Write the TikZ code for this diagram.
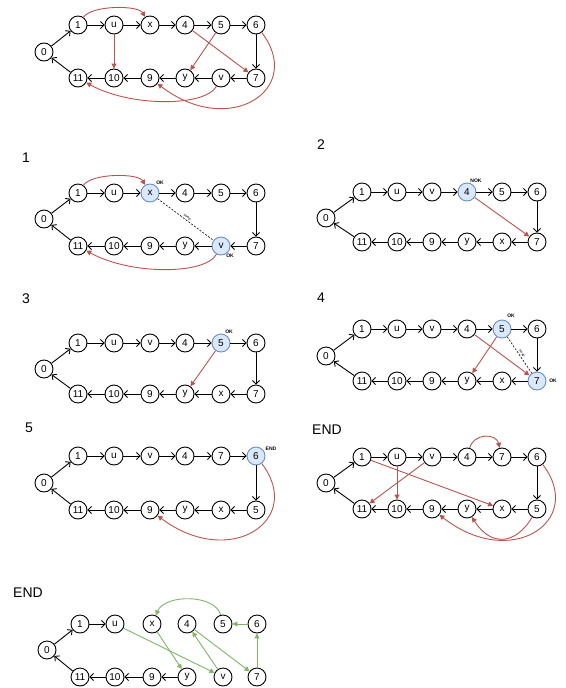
\documentclass[tikz,border=0pt]{standalone}
\usepackage{fontspec}
\setmainfont{Liberation Sans}
\usetikzlibrary{arrows.meta}
\definecolor{redc}{HTML}{B85450}
\definecolor{greenc}{HTML}{82B366}
\definecolor{bluef}{HTML}{DAE8FC}
\definecolor{blued}{HTML}{6C8EBF}
\begin{document}
\begin{tikzpicture}[x=1pt,y=-1pt,
  nd/.style={circle,draw,line width=0.9pt,minimum size=18pt,inner sep=0pt,font=\fontsize{10}{10}\selectfont},
  hl/.style={nd,fill=bluef,draw=blued},
  blk/.style={line width=0.9pt,-{Straight Barb[length=3.5pt,width=7pt]}},
  redarr/.style={draw=redc,line width=0.9pt,-{Triangle[length=5pt,width=5pt]}},
  grnarr/.style={draw=greenc,line width=0.9pt,-{Triangle[length=5pt,width=5pt]}},
  dsh/.style={dashed,line width=0.6pt,dash pattern=on 2pt off 1.5pt},
  tiny/.style={font=\fontsize{5}{5}\bfseries\selectfont,inner sep=0pt},
  swapl/.style={font=\fontsize{3.5}{4}\selectfont,inner sep=1pt,sloped,above},
  lbl/.style={font=\fontsize{14}{14}\selectfont,inner sep=0pt}]
\useasboundingbox (0,0) rectangle (565,688);

% ---------- Panel A (top) ----------
\node[nd] (A0) at (44,52) {0};
\foreach \n/\x in {1/78,u/114,x/150,4/185,5/221,6/256} \node[nd] (A\n) at (\x,25) {\n};
\foreach \n/\x in {11/78,10/114,9/150,y/185,v/221,7/256} \node[nd] (A\n) at (\x,78) {\n};
\foreach \a/\b in {0/1,1/u,u/x,x/4,4/5,5/6,6/7,7/v,v/y,y/9,9/10,10/11,11/0} \draw[blk] (A\a) -- (A\b);
\draw[redarr] (A1) .. controls (92,5) and (138,5) .. (Ax);
\draw[redarr] (Au) -- (A10);
\draw[redarr] (A4) -- (A7);
\draw[redarr] (A5) -- (Ay);
\draw[redarr] (A6) .. controls (305,89) and (230,139) .. (A9);
\draw[redarr] (Av) .. controls (205,107) and (130,107) .. (A11);

% ---------- Panel 1 ----------
\node[lbl] (L1) at (26,158) {1};
\node[nd] (B0) at (44,219) {0};
\foreach \n/\x/\s in {1/78/nd,u/114/nd,x/150/hl,4/185/nd,5/221/nd,6/256/nd} \node[\s] (B\n) at (\x,193) {\n};
\foreach \n/\x/\s in {11/78/nd,10/114/nd,9/150/nd,y/185/nd,v/221/hl,7/256/nd} \node[\s] (B\n) at (\x,246) {\n};
\foreach \a/\b in {0/1,1/u,u/x,x/4,4/5,5/6,6/7,7/v,v/y,y/9,9/10,10/11,11/0} \draw[blk] (B\a) -- (B\b);
\draw[redarr] (B1) .. controls (92,173) and (138,173) .. (Bx);
\draw[redarr] (Bv) .. controls (205,275) and (130,275) .. (B11);
\draw[dsh] (Bx) -- node[swapl] {swap} (Bv);
\node[tiny] (Bokx) at (160,183) {OK};
\node[tiny] (Bokv) at (230,256) {OK};

% ---------- Panel 2 ----------
\node[lbl] (L2) at (321,145) {2};
\node[nd] (C0) at (326,218) {0};
\foreach \n/\x/\s in {1/362/nd,u/397/nd,v/432/nd,4/467/hl,5/502/nd,6/537/nd} \node[\s] (C\n) at (\x,192) {\n};
\foreach \n/\x in {11/362,10/397,9/432,y/467,x/502,7/537} \node[nd] (C\n) at (\x,242) {\n};
\foreach \a/\b in {0/1,1/u,u/v,v/4,4/5,5/6,6/7,7/x,x/y,y/9,9/10,10/11,11/0} \draw[blk] (C\a) -- (C\b);
\draw[redarr] (C4) -- (C7);
\node[tiny] (Cnok) at (476,181) {NOK};

% ---------- Panel 3 ----------
\node[lbl] (L3) at (26,299) {3};
\node[nd] (D0) at (44,369) {0};
\foreach \n/\x/\s in {1/78/nd,u/114/nd,v/150/nd,4/185/nd,5/221/hl,6/256/nd} \node[\s] (D\n) at (\x,343) {\n};
\foreach \n/\x in {11/78,10/114,9/150,y/185,x/221,7/256} \node[nd] (D\n) at (\x,394) {\n};
\foreach \a/\b in {0/1,1/u,u/v,v/4,4/5,5/6,6/7,7/x,x/y,y/9,9/10,10/11,11/0} \draw[blk] (D\a) -- (D\b);
\draw[redarr] (D5) -- (Dy);
\node[tiny] (Dok) at (229,332) {OK};

% ---------- Panel 4 ----------
\node[lbl] (L4) at (321,298) {4};
\node[nd] (E0) at (326,356) {0};
\foreach \n/\x/\s in {1/362/nd,u/397/nd,v/432/nd,4/467/nd,5/502/hl,6/537/nd} \node[\s] (E\n) at (\x,329) {\n};
\foreach \n/\x/\s in {11/362/nd,10/397/nd,9/432/nd,y/467/nd,x/502/nd,7/537/hl} \node[\s] (E\n) at (\x,381) {\n};
\foreach \a/\b in {0/1,1/u,u/v,v/4,4/5,5/6,6/7,7/x,x/y,y/9,9/10,10/11,11/0} \draw[blk] (E\a) -- (E\b);
\draw[redarr] (E4) -- (E7);
\draw[redarr] (E5) -- (Ey);
\draw[dsh] (E5) -- node[swapl] {swap} (E7);
\node[tiny] (Eok5) at (511,316) {OK};
\node[tiny] (Eok7) at (553,381) {OK};

% ---------- Panel 5 ----------
\node[lbl] (L5) at (29,428) {5};
\node[nd] (F0) at (44,483) {0};
\foreach \n/\x/\s in {1/78/nd,u/114/nd,v/150/nd,4/185/nd,7/221/nd,6/256/hl} \node[\s] (F\n) at (\x,456) {\n};
\foreach \n/\x in {11/78,10/114,9/150,y/185,x/221,5/256} \node[nd] (F\n) at (\x,510) {\n};
\foreach \a/\b in {0/1,1/u,u/v,v/4,4/7,7/6,6/5,5/x,x/y,y/9,9/10,10/11,11/0} \draw[blk] (F\a) -- (F\b);
\draw[redarr] (F6) .. controls (305,520) and (230,570) .. (F9);
\node[tiny] (Fend) at (271,449) {END};

% ---------- Panel END (right) ----------
\node[lbl] (L6) at (327,430) {END};
\node[nd] (G0) at (326,483) {0};
\foreach \n/\x in {1/362,u/397,v/432,4/467,7/502,6/537} \node[nd] (G\n) at (\x,457) {\n};
\foreach \n/\x in {11/362,10/397,9/432,y/467,x/502,5/537} \node[nd] (G\n) at (\x,509) {\n};
\foreach \a/\b in {0/1,1/u,u/v,v/4,4/7,7/6,6/5,5/x,x/y,y/9,9/10,10/11,11/0} \draw[blk] (G\a) -- (G\b);
\draw[redarr] (G4) .. controls (474,433) and (496,433) .. (G7);
\draw[redarr] (G1) -- (Gx);
\draw[redarr] (Gu) -- (G10);
\draw[redarr] (Gv) -- (G11);
\draw[redarr] (G5) .. controls (515,546) and (490,546) .. (Gy);
\draw[redarr] (G6) .. controls (586,521) and (511,571) .. (G9);

% ---------- Final END (bottom) ----------
\node[lbl] (L7) at (28,593) {END};
\node[nd] (H0) at (47,650) {0};
\foreach \n/\x in {1/80,u/115,x/152,4/187,5/223,6/257} \node[nd] (H\n) at (\x,624) {\n};
\foreach \n/\x in {11/80,10/115,9/152,y/187,v/223,7/257} \node[nd] (H\n) at (\x,677) {\n};
\foreach \a/\b in {0/1,1/u,y/9,9/10,10/11,11/0} \draw[blk] (H\a) -- (H\b);
\draw[grnarr] (Hu) -- (Hv);
\draw[grnarr] (Hx) -- (Hy);
\draw[grnarr] (Hv) -- (H4);
\draw[grnarr] (H4) -- (H7);
\draw[grnarr] (H7) -- (H6);
\draw[grnarr] (H6) -- (H5);
\draw[grnarr] (H5) .. controls (215,594) and (165,594) .. (Hx);
\end{tikzpicture}
\end{document}
